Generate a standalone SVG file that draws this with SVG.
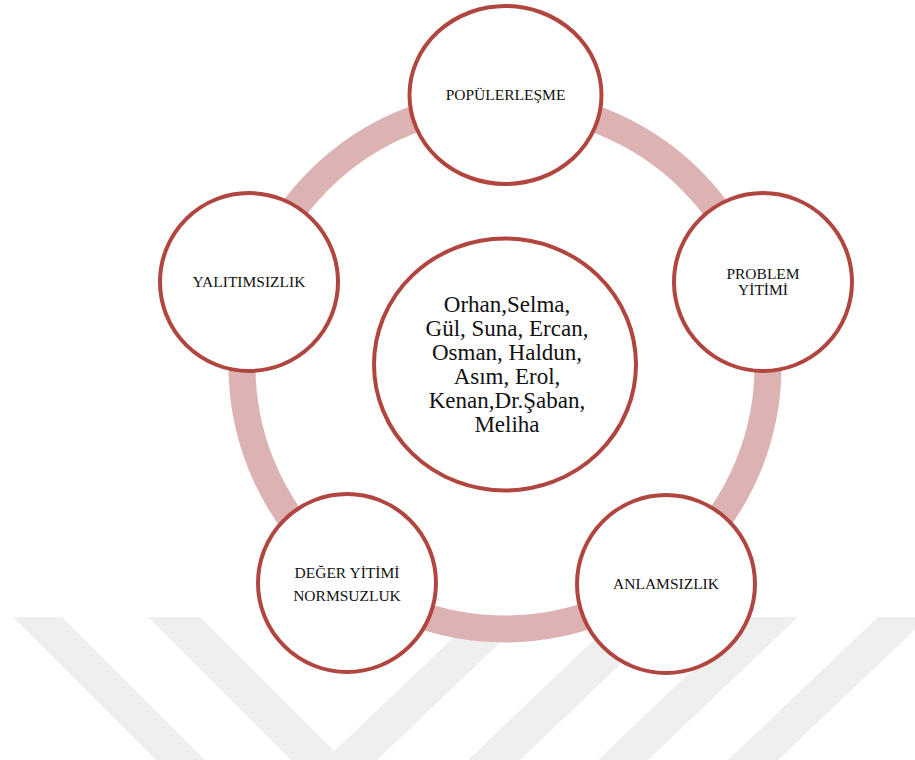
<svg xmlns="http://www.w3.org/2000/svg" width="915" height="760" viewBox="0 0 915 760">
  <style>
    .band { fill: #efefef; }
    .ring { fill: none; stroke: #dcb2b2; stroke-width: 27; }
    .node { fill: #ffffff; stroke: #b0463f; stroke-width: 4; }
    .lbl { font-family: "Liberation Serif", "Times New Roman", serif; font-size: 15.5px; fill: #111111; text-anchor: middle; }
    .hub { font-family: "Liberation Serif", "Times New Roman", serif; font-size: 23px; fill: #111111; text-anchor: middle; }
  </style>
  <rect width="915" height="760" fill="#ffffff"/>

  <!-- light grey diagonal bands in the lower background -->
  <g id="background-bands">
    <polygon class="band" points="13,617 62,617 205,760 156,760"/>
    <polygon class="band" points="148,617 200,617 343,760 291,760"/>
    <polygon class="band" points="475,617 527,617 377,760 325,760"/>
    <polygon class="band" points="618,617 670,617 520,760 468,760"/>
    <polygon class="band" points="748,617 798,617 648,760 598,760"/>
    <polygon class="band" points="878,617 928,617 778,760 728,760"/>
  </g>

  <!-- ring linking the outer nodes -->
  <g id="connectors">
    <circle class="ring" cx="505" cy="366" r="263"/>
  </g>

  <g id="node-populerlesme">
    <ellipse class="node" cx="505.5" cy="95" rx="96" ry="89"/>
    <text class="lbl" x="505.5" y="100">POPÜLERLEŞME</text>
  </g>

  <g id="node-problem-yitimi">
    <circle class="node" cx="763" cy="282" r="89"/>
    <text class="lbl" x="763" y="279">PROBLEM</text>
    <text class="lbl" x="763" y="295">YİTİMİ</text>
  </g>

  <g id="node-anlamsizlik">
    <circle class="node" cx="666" cy="584" r="89"/>
    <text class="lbl" x="666" y="589">ANLAMSIZLIK</text>
  </g>

  <g id="node-deger-yitimi">
    <circle class="node" cx="347" cy="583" r="89"/>
    <text class="lbl" x="347" y="578">DEĞER YİTİMİ</text>
    <text class="lbl" x="347" y="601">NORMSUZLUK</text>
  </g>

  <g id="node-yalitimsizlik">
    <circle class="node" cx="249" cy="282" r="89"/>
    <text class="lbl" x="249" y="287">YALITIMSIZLIK</text>
  </g>

  <g id="node-center">
    <ellipse class="node" cx="505" cy="364.5" rx="131" ry="126"/>
    <text class="hub" x="507" y="312">Orhan,Selma,</text>
    <text class="hub" x="507" y="336">Gül, Suna, Ercan,</text>
    <text class="hub" x="507" y="360">Osman, Haldun,</text>
    <text class="hub" x="507" y="384">Asım, Erol,</text>
    <text class="hub" x="507" y="408">Kenan,Dr.Şaban,</text>
    <text class="hub" x="507" y="432">Meliha</text>
  </g>
</svg>
